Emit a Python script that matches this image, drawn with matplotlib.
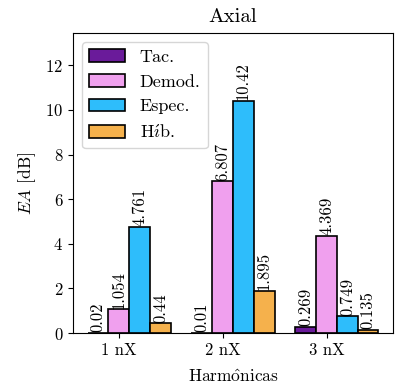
import numpy as np
import matplotlib
matplotlib.use("Agg")
import matplotlib.pyplot as plt

plt.rcParams["font.family"] = ["cmr10", "DejaVu Serif"]
plt.rcParams["mathtext.fontset"] = "cm"
plt.rcParams["axes.formatter.use_mathtext"] = True
plt.rcParams["font.size"] = 12

harmonics = ["1 nX", "2 nX", "3 nX"]
series_names = ["Tac.", "Demod.", "Espec.", r"H$\mathrm{\acute{\imath}}$b."]
tac = [0.02, 0.01, 0.269]
demod = [1.054, 6.807, 4.369]
espec = [4.761, 10.42, 0.749]
hib = [0.44, 1.895, 0.135]
colors = ["#6a1b9a", "#f0a0ee", "#2ebdfb", "#f5b14c"]

fig = plt.figure(figsize=(3.97, 3.89), dpi=100)
ax = fig.add_axes([73 / 397, 1 - 333 / 389, 320 / 397, 300 / 389])

x = np.arange(len(harmonics))
width = 0.2
all_series = [tac, demod, espec, hib]
for i, (vals, name, col) in enumerate(zip(all_series, series_names, colors)):
    pos = x + (i - 1) * width
    bars = ax.bar(pos, vals, width, color=col, edgecolor="black",
                  linewidth=1.2, label=name)
    for b, v in zip(bars, vals):
        ax.text(b.get_x() + b.get_width() / 2, b.get_height() + 0.03, f"{v:g}",
                rotation=90, ha="center", va="bottom", fontsize=12)

ax.set_xticks(x)
ax.set_xticklabels(harmonics)
ax.set_ylim(0, 13.45)
ax.set_yticks([0, 2, 4, 6, 8, 10, 12])
ax.set_xlabel(r"Harm$\mathrm{\hat{o}}$nicas", fontsize=12.5, labelpad=7.5)
ax.set_ylabel("$EA$ [dB]", fontsize=12.5, labelpad=5)
ax.set_title("Axial", fontsize=15, pad=8)
ax.legend(loc="upper left", fontsize=13)

fig.savefig("out.png", dpi=100)
